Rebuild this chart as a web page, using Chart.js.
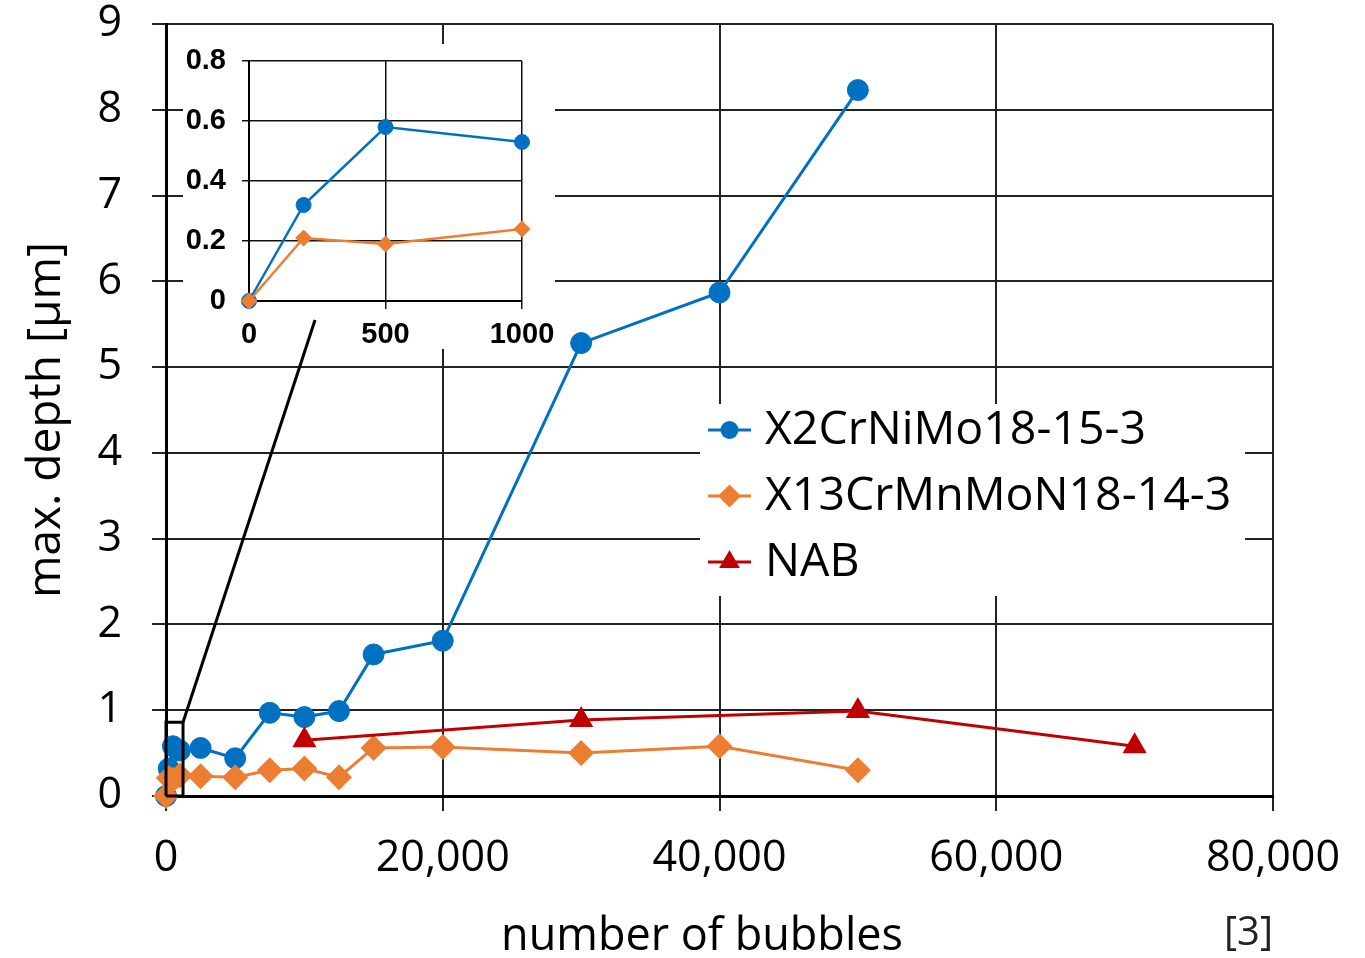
<!DOCTYPE html>
<html><head><meta charset="utf-8">
<script src="https://cdn.jsdelivr.net/npm/chart.js@4.4.1/dist/chart.umd.min.js"></script>
<style>
html,body{margin:0;padding:0;background:#fff;}
#wrap{position:relative;width:1365px;height:958px;overflow:hidden;}
#main{position:absolute;left:0;top:0;}
#inset{position:absolute;left:183px;top:44px;}
</style></head><body>
<div id="wrap"><canvas id="main" width="1365" height="958"></canvas><canvas id="inset" width="372" height="305"></canvas></div>
<script>
// ---- data ----
const bubbles    = [0, 200, 500, 1000, 2500, 5000, 7500, 10000, 12500, 15000, 20000, 30000, 40000, 50000];
const depthX2    = [0, 0.32, 0.58, 0.53, 0.56, 0.44, 0.97, 0.92, 0.99, 1.65, 1.81, 5.28, 5.87, 8.23];
const depthX13   = [0, 0.21, 0.19, 0.24, 0.23, 0.22, 0.30, 0.32, 0.22, 0.56, 0.57, 0.50, 0.58, 0.30];
const bubblesNAB = [10000, 30000, 50000, 70000];
const depthNAB   = [0.65, 0.885, 0.99, 0.58];
const seriesNames = ['X2CrNiMo18-15-3', 'X13CrMnMoN18-14-3', 'NAB'];
const xTickValues = [0, 20000, 40000, 60000, 80000];
const yTickValues = [0, 1, 2, 3, 4, 5, 6, 7, 8, 9];
const insetXTicks = [0, 500, 1000];
const insetYTicks = [0, 0.2, 0.4, 0.6, 0.8];
const zoomBoxX   = [0, 1230, 1230, 0, 0];
const zoomBoxY   = [0, 0, 0.86, 0.86, 0];
const connectorX = [1230, 10770];
const connectorY = [0.86, 5.55];
const xTitle = 'number of bubbles';
const yTitle = 'max. depth [µm]';
const sourceNote = '[3]';

// ---- styles ----
const BLUE = '#0070C0', ORANGE = '#ED7D31', RED = '#C00000';
const FONT = "'Open Sans', sans-serif";
const INSET = {left: 183, top: 44, w: 372, h: 305};
const LEG = {x: 700, y: 404, w: 545, h: 192};

const pts = (xs, ys) => xs.map((x, i) => ({x, y: ys[i]}));
const noPad = s => { s.paddingTop = 0; s.paddingBottom = 0; s.paddingLeft = 0; s.paddingRight = 0; };

function marker(ctx, style, x, y, r, color) {
  ctx.beginPath();
  ctx.fillStyle = color;
  if (style === 'circle') ctx.arc(x, y, r, 0, Math.PI * 2);
  else if (style === 'rectRot') { ctx.moveTo(x - r, y); ctx.lineTo(x, y - r); ctx.lineTo(x + r, y); ctx.lineTo(x, y + r); ctx.closePath(); }
  else { ctx.moveTo(x, y - r); ctx.lineTo(x + 0.866 * r, y + 0.5 * r); ctx.lineTo(x - 0.866 * r, y + 0.5 * r); ctx.closePath(); }
  ctx.fill();
}

const mainDecor = {
  id: 'mainDecor',
  beforeDatasetsDraw(chart) {
    const ctx = chart.ctx;
    ctx.save();
    ctx.fillStyle = '#fff';
    ctx.fillRect(INSET.left, INSET.top, INSET.w, INSET.h);
    ctx.fillRect(LEG.x, LEG.y, LEG.w, LEG.h);
    ctx.restore();
  },
  afterDatasetsDraw(chart) {
    const ctx = chart.ctx;
    ctx.save();
    const rows = [430, 496, 562];
    const sizes = [9, 11.5, 12];
    for (let i = 0; i < 3; i++) {
      const ds = chart.data.datasets[i];
      const y = rows[i];
      ctx.strokeStyle = ds.borderColor; ctx.lineWidth = 3;
      ctx.beginPath(); ctx.moveTo(708, y); ctx.lineTo(751, y); ctx.stroke();
      marker(ctx, ds.pointStyle, 729.5, y, sizes[i], ds.borderColor);
      ctx.fillStyle = '#000';
      ctx.font = '46.5px ' + FONT;
      ctx.textAlign = 'left'; ctx.textBaseline = 'middle';
      ctx.fillText(ds.label, 765, y + 1);
    }
    ctx.restore();
  },
  afterDraw(chart) {
    const ctx = chart.ctx;
    ctx.save();
    ctx.fillStyle = '#000';
    ctx.textAlign = 'center'; ctx.textBaseline = 'middle';
    ctx.font = '45px ' + FONT;
    ctx.fillText(xTitle, 702, 937);
    ctx.save();
    ctx.translate(47, 420);
    ctx.rotate(-Math.PI / 2);
    ctx.font = '46px ' + FONT;
    ctx.fillText(yTitle, 0, 0);
    ctx.restore();
    ctx.fillStyle = '#222';
    ctx.font = '40px ' + FONT;
    ctx.textAlign = 'right';
    ctx.fillText(sourceNote, 1273, 934);
    ctx.restore();
  }
};

Chart.defaults.font.family = FONT;
Chart.defaults.color = '#000';

new Chart(document.getElementById('main'), {
  type: 'line',
  data: {
    datasets: [
      {label: seriesNames[0], data: pts(bubbles, depthX2), borderColor: BLUE, backgroundColor: BLUE,
       pointStyle: 'circle', pointRadius: 10.5, pointBorderWidth: 1, borderWidth: 3, order: 3, clip: false},
      {label: seriesNames[1], data: pts(bubbles, depthX13), borderColor: ORANGE, backgroundColor: ORANGE,
       pointStyle: 'rectRot', pointRadius: 13, pointBorderWidth: 0, borderWidth: 3, order: 2, clip: false},
      {label: seriesNames[2], data: pts(bubblesNAB, depthNAB), borderColor: RED, backgroundColor: RED,
       pointStyle: 'triangle', pointRadius: 14, pointBorderWidth: 0, borderWidth: 3, order: 1, clip: false},
      {label: 'box', data: pts(zoomBoxX, zoomBoxY), borderColor: '#000', borderWidth: 3,
       pointRadius: 0, order: 0, clip: false},
      {label: 'connector', data: pts(connectorX, connectorY), borderColor: '#000', borderWidth: 3,
       pointRadius: 0, order: 0, clip: false}
    ]
  },
  options: {
    responsive: false, animation: false, devicePixelRatio: 1,
    layout: {padding: {top: 24, right: 92, left: 0, bottom: 0}},
    plugins: {legend: {display: false}, tooltip: {enabled: false}},
    elements: {line: {tension: 0}},
    scales: {
      x: {
        type: 'linear', min: 0, max: 80000,
        afterBuildTicks: s => { s.ticks = xTickValues.map(v => ({value: v})); },
        afterFit: s => { s.height = 162; noPad(s); },
        ticks: {font: {size: 43}, padding: 22, color: '#000', callback: v => v.toLocaleString('en-US')},
        grid: {color: '#222', lineWidth: 2, tickLength: 15},
        border: {color: '#000', width: 3},
        title: {display: false, text: xTitle}
      },
      y: {
        min: 0, max: 9,
        afterBuildTicks: s => { s.ticks = yTickValues.map(v => ({value: v})); },
        afterFit: s => { s.width = 166; noPad(s); },
        ticks: {font: {size: 43}, padding: 30, color: '#000'},
        grid: {color: '#222', lineWidth: 2, tickLength: 14},
        border: {color: '#000', width: 3},
        title: {display: false, text: yTitle}
      }
    }
  },
  plugins: [mainDecor]
});

const insetFilter = (xs, ys) => pts(xs, ys).filter(p => p.x <= 1000);
const INSET_FONT = {family: "'Liberation Sans', Arial, sans-serif", size: 29, weight: 'bold'};
new Chart(document.getElementById('inset'), {
  type: 'line',
  data: {
    datasets: [
      {label: seriesNames[0], data: insetFilter(bubbles, depthX2), borderColor: BLUE, backgroundColor: BLUE,
       pointStyle: 'circle', pointRadius: 7.5, pointBorderWidth: 1, borderWidth: 2.5, order: 1, clip: false},
      {label: seriesNames[1], data: insetFilter(bubbles, depthX13), borderColor: ORANGE, backgroundColor: ORANGE,
       pointStyle: 'rectRot', pointRadius: 8.5, pointBorderWidth: 0, borderWidth: 2.5, order: 0, clip: false}
    ]
  },
  options: {
    responsive: false, animation: false, devicePixelRatio: 1,
    layout: {padding: {top: 17, right: 33, left: 0, bottom: 0}},
    plugins: {legend: {display: false}, tooltip: {enabled: false}},
    elements: {line: {tension: 0}},
    scales: {
      x: {
        type: 'linear', min: 0, max: 1000,
        afterBuildTicks: s => { s.ticks = insetXTicks.map(v => ({value: v})); },
        afterFit: s => { s.height = 48; noPad(s); },
        ticks: {font: INSET_FONT, padding: 9, color: '#000', callback: v => String(v)},
        grid: {color: '#111', lineWidth: 1.5, tickLength: 8},
        border: {color: '#000', width: 2}
      },
      y: {
        min: 0, max: 0.8,
        afterBuildTicks: s => { s.ticks = insetYTicks.map(v => ({value: v})); },
        afterFit: s => { s.width = 66; noPad(s); },
        ticks: {font: INSET_FONT, padding: 16, color: '#000', callback: v => String(+v.toFixed(1))},
        grid: {color: '#111', lineWidth: 1.5, tickLength: 7},
        border: {color: '#000', width: 2}
      }
    }
  }
});
</script>
</body></html>
